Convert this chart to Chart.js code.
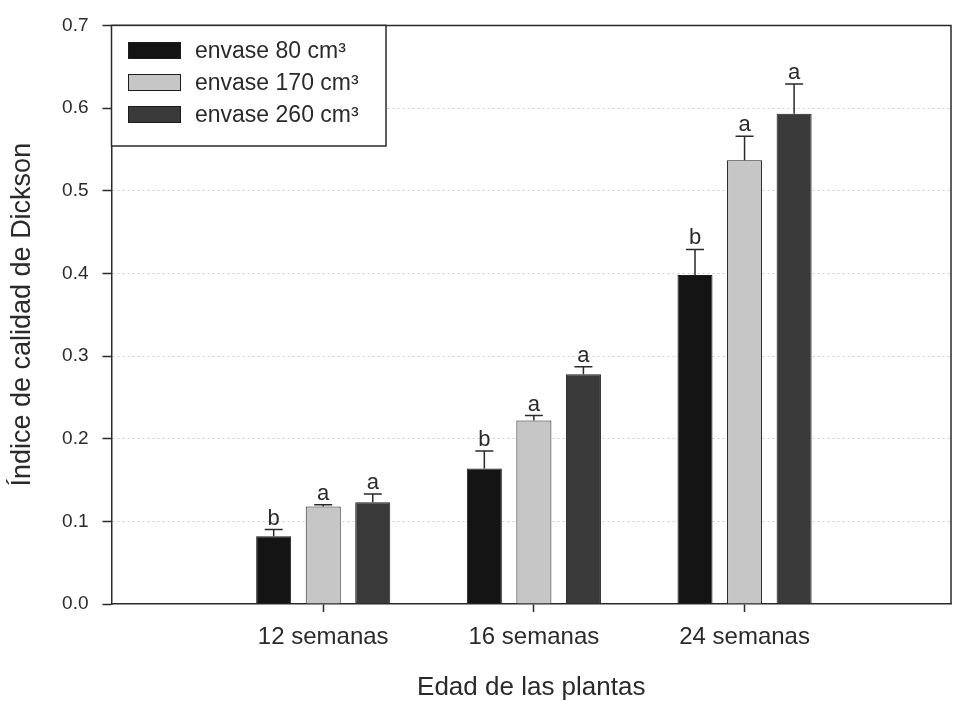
<!DOCTYPE html>
<html>
<head>
<meta charset="utf-8">
<script src="https://cdn.jsdelivr.net/npm/chart.js@4"></script>
<style>
  html, body { margin: 0; padding: 0; background: #ffffff; }
  #wrap { width: 955px; height: 701px; }
</style>
</head>
<body>
<div id="wrap"><canvas id="c" width="955" height="701"></canvas></div>
<script>
// Edad de las plantas (semanas) y tamaño de envase
const categories = ['12 semanas', '16 semanas', '24 semanas'];
const seriesNames = ['envase 80 cm³', 'envase 170 cm³', 'envase 260 cm³'];

// Índice de calidad de Dickson (media) por envase
const env80  = [0.082, 0.164, 0.398];
const env170 = [0.118, 0.222, 0.537];
const env260 = [0.123, 0.278, 0.593];

// Error estándar (solo hacia arriba)
const err80  = [0.008, 0.021, 0.031];
const err170 = [0.002, 0.006, 0.029];
const err260 = [0.010, 0.009, 0.036];

// Letras de comparación de medias
const let80  = ['b', 'b', 'b'];
const let170 = ['a', 'a', 'a'];
const let260 = ['a', 'a', 'a'];

const yTicks = [0, 0.1, 0.2, 0.3, 0.4, 0.5, 0.6, 0.7];

const FONT = "'Liberation Sans', Arial, sans-serif";
const INK = '#2a2a2a';
const fills = ['#141414', '#c6c6c6', '#3a3a3a'];

const toPoints = vals => vals.map((v, i) => ({ x: i + 1, y: v }));

const datasets = [
  { label: seriesNames[0], data: toPoints(env80),  err: err80,  letters: let80,  backgroundColor: fills[0] },
  { label: seriesNames[1], data: toPoints(env170), err: err170, letters: let170, backgroundColor: fills[1] },
  { label: seriesNames[2], data: toPoints(env260), err: err260, letters: let260, backgroundColor: fills[2] }
].map(d => Object.assign(d, {
  borderColor: '#1c1c1c',
  borderWidth: 1,
  categoryPercentage: 0.7055,
  barPercentage: 0.707
}));

// Frame on top and right of the plotting area
const framePlugin = {
  id: 'frame',
  afterDraw(chart) {
    const { ctx, chartArea: a } = chart;
    ctx.save();
    ctx.strokeStyle = INK;
    ctx.lineWidth = 1.5;
    ctx.beginPath();
    ctx.moveTo(a.left, a.top);
    ctx.lineTo(a.right, a.top);
    ctx.lineTo(a.right, a.bottom);
    ctx.stroke();
    ctx.restore();
  }
};

// Error bars with caps and significance letters above each bar
const errorPlugin = {
  id: 'errorBars',
  afterDatasetsDraw(chart) {
    const { ctx } = chart;
    const yScale = chart.scales.y;
    ctx.save();
    chart.data.datasets.forEach((ds, di) => {
      const meta = chart.getDatasetMeta(di);
      meta.data.forEach((bar, i) => {
        const v = ds.data[i].y;
        const top = yScale.getPixelForValue(v + ds.err[i]);
        const x = bar.x;
        ctx.strokeStyle = INK;
        ctx.lineWidth = 1.5;
        ctx.beginPath();
        ctx.moveTo(x, bar.y);
        ctx.lineTo(x, top);
        ctx.moveTo(x - 9, top);
        ctx.lineTo(x + 9, top);
        ctx.stroke();
        ctx.fillStyle = INK;
        ctx.font = '22px ' + FONT;
        ctx.textAlign = 'center';
        ctx.textBaseline = 'alphabetic';
        ctx.fillText(ds.letters[i], x, top - 5);
      });
    });
    ctx.restore();
  }
};

// Legend drawn inside the upper-left corner of the plotting area
const legendPlugin = {
  id: 'insideLegend',
  afterDraw(chart) {
    const { ctx, chartArea: a } = chart;
    const boxR = 386, boxB = 146;
    ctx.save();
    ctx.fillStyle = '#ffffff';
    ctx.fillRect(a.left, a.top, boxR - a.left, boxB - a.top);
    ctx.strokeStyle = INK;
    ctx.lineWidth = 1.5;
    ctx.strokeRect(a.left, a.top, boxR - a.left, boxB - a.top);
    chart.data.datasets.forEach((ds, i) => {
      const cy = 50.5 + i * 32;
      ctx.fillStyle = ds.backgroundColor;
      ctx.fillRect(128, cy - 8.5, 53, 17);
      ctx.strokeStyle = '#1c1c1c';
      ctx.lineWidth = 1;
      ctx.strokeRect(128.5, cy - 8, 52, 16);
      ctx.fillStyle = INK;
      ctx.font = '23px ' + FONT;
      ctx.textAlign = 'left';
      ctx.textBaseline = 'middle';
      ctx.fillText(ds.label, 195, cy + 1);
    });
    ctx.restore();
  }
};

new Chart(document.getElementById('c'), {
  type: 'bar',
  data: { datasets },
  options: {
    responsive: false,
    animation: false,
    layout: { padding: { left: 0, right: 4, top: 16, bottom: 0 } },
    plugins: { legend: { display: false }, tooltip: { enabled: false } },
    scales: {
      x: {
        type: 'linear',
        offset: false,
        min: -0.005,
        max: 3.98,
        afterBuildTicks: s => { s.ticks = categories.map((c, i) => ({ value: i + 1 })); },
        afterFit: s => { s.height = 97; },
        ticks: {
          callback: v => categories[Math.round(v) - 1] || '',
          color: INK,
          font: { family: FONT, size: 24 },
          padding: 11,
          maxRotation: 0,
          autoSkip: false
        },
        grid: { offset: false, drawOnChartArea: false, tickLength: 8, tickColor: INK, tickWidth: 1.5 },
        border: { color: INK, width: 1.5 },
        title: {
          display: true,
          text: 'Edad de las plantas',
          color: INK,
          font: { family: FONT, size: 26 },
          padding: { top: 0, bottom: -2 }
        }
      },
      y: {
        min: 0,
        max: 0.7,
        afterBuildTicks: s => { s.ticks = yTicks.map(v => ({ value: v })); },
        afterFit: s => { s.width = 111.5; },
        ticks: {
          callback: v => v.toFixed(1),
          color: INK,
          font: { family: FONT, size: 19 },
          padding: 14
        },
        grid: {
          color: ctx => (ctx.tick && ctx.tick.value > 0 && ctx.tick.value < 0.7) ? 'rgba(0,0,0,0.2)' : 'rgba(0,0,0,0)',
          lineWidth: 1,
          tickLength: 9,
          tickColor: INK,
          tickWidth: 1.5,
          tickBorderDash: []
        },
        border: { color: INK, width: 1.5, dash: [2, 3] },
        title: {
          display: true,
          text: 'Índice de calidad de Dickson',
          color: INK,
          font: { family: FONT, size: 27 },
          padding: { top: 6, bottom: 0 }
        }
      }
    }
  },
  plugins: [framePlugin, errorPlugin, legendPlugin]
});
</script>
</body>
</html>
